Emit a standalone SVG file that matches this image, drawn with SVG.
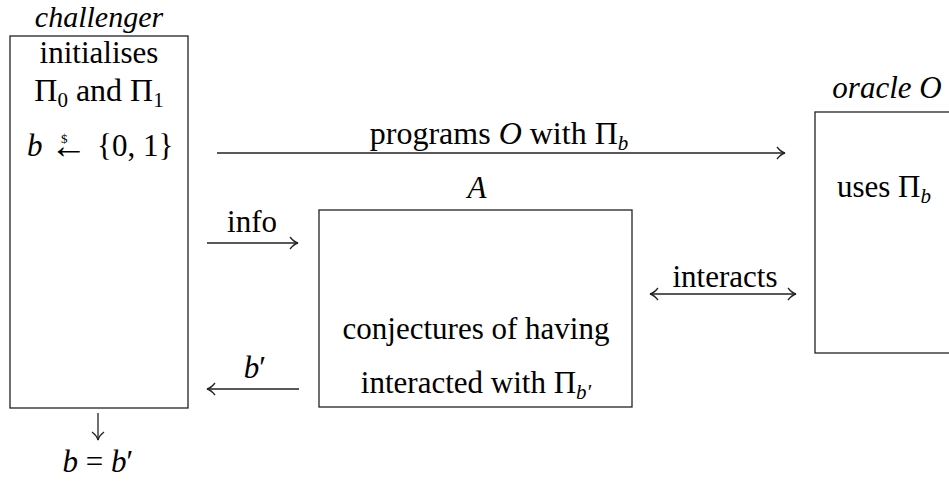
<svg xmlns="http://www.w3.org/2000/svg" width="949" height="481" viewBox="0 0 949 481">
<style>
text{font-family:"Liberation Serif","DejaVu Serif",serif;fill:#000;font-size:31px}
.it{font-style:italic}
.sub{font-size:21px}
.box{fill:#fff;stroke:#222;stroke-width:1.3}
.edge{fill:none;stroke:#222;stroke-width:1.3}
</style>
<defs>
<marker id="ah" markerUnits="userSpaceOnUse" markerWidth="16" markerHeight="16" refX="13" refY="8" orient="auto-start-reverse">
<path d="M5,2 Q9,7 13,8 Q9,9 5,14" fill="none" stroke="#222" stroke-width="1.3"/>
</marker>
</defs>
<rect width="949" height="481" fill="#fff"/>
<g id="challenger">
<text class="it" x="99" y="27" text-anchor="middle" style="font-size:30px">challenger</text>
<rect class="box" x="10" y="36" width="178" height="372"/>
<text x="99" y="63" text-anchor="middle">initialises</text>
<text x="99" y="101" text-anchor="middle" style="font-size:32px">Π<tspan class="sub" dy="6">0</tspan><tspan dy="-6"> and Π</tspan><tspan class="sub" dy="6">1</tspan></text>
<text y="156"><tspan class="it" x="27">b</tspan><tspan x="50" y="158" style="font-size:37px">←</tspan><tspan x="97" y="156">{0, 1}</tspan></text>
<text x="61" y="143" style="font-size:13px">$</text>
</g>
<g id="adversary">
<text class="it" x="477" y="198" text-anchor="middle">A</text>
<rect class="box" x="319" y="210" width="313" height="197"/>
<text x="476" y="339" text-anchor="middle">conjectures of having</text>
<text x="476" y="393" text-anchor="middle">interacted with Π<tspan class="sub it" dy="6">b′</tspan></text>
</g>
<g id="oracle">
<text x="887" y="98" text-anchor="middle"><tspan class="it">oracle O</tspan></text>
<rect class="box" x="815" y="112" width="200" height="241"/>
<text x="884" y="197" text-anchor="middle">uses Π<tspan class="sub it" dy="6">b</tspan></text>
</g>
<g id="result">
<text x="98" y="472" text-anchor="middle"><tspan class="it">b</tspan> = <tspan class="it">b</tspan>′</text>
</g>
<g id="connectors">
<path class="edge" d="M217,153 H785" marker-end="url(#ah)"/>
<text x="499" y="144" text-anchor="middle" style="font-size:32px">programs <tspan class="it">O</tspan> with Π<tspan class="sub it" dy="6">b</tspan></text>
<path class="edge" d="M207,243 H298" marker-end="url(#ah)"/>
<text x="252" y="232" text-anchor="middle">info</text>
<path class="edge" d="M299,389 H207" marker-end="url(#ah)"/>
<text x="255" y="378" text-anchor="middle"><tspan class="it">b</tspan>′</text>
<path class="edge" d="M650,294 H796" marker-start="url(#ah)" marker-end="url(#ah)"/>
<text x="725" y="287" text-anchor="middle">interacts</text>
<path class="edge" d="M98,413 V440" marker-end="url(#ah)"/>
</g>
</svg>
